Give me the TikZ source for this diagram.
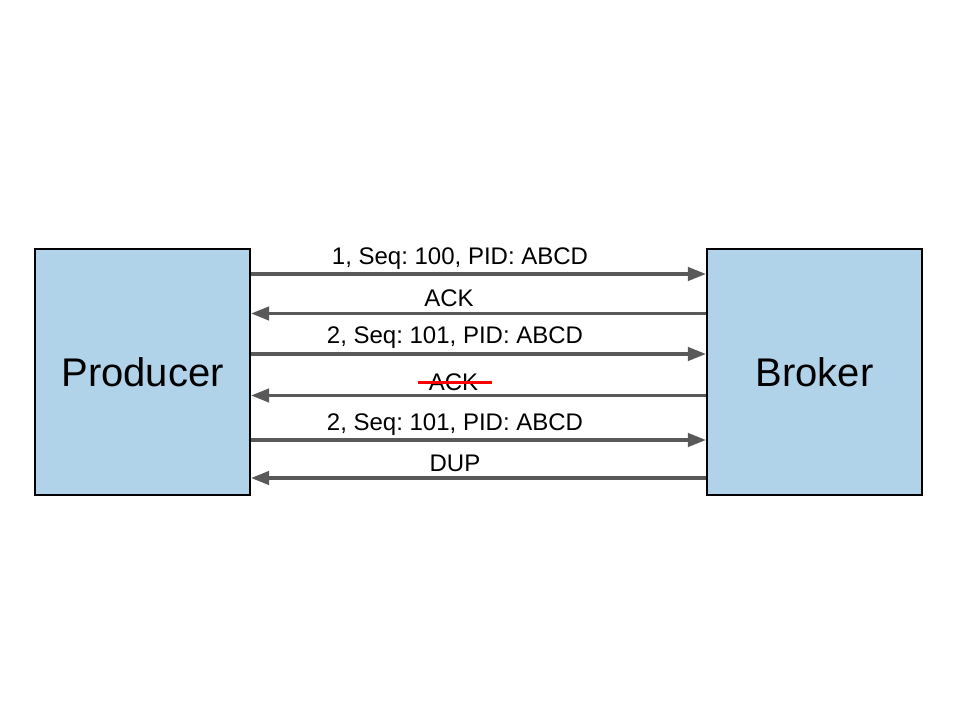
\documentclass[tikz,border=0pt]{standalone}
\usepackage{fontspec}
\setmainfont{Liberation Sans}
\usetikzlibrary{arrows.meta}
\definecolor{boxblue}{RGB}{177,211,234}
\definecolor{arrgray}{RGB}{89,89,89}
\frenchspacing
\tikzset{
  x=0.75pt, y=-0.75pt,
  box/.style={draw=black, line width=1.6pt, fill=boxblue, minimum width=161.25pt, minimum height=184.5pt, inner sep=0pt, font=\fontsize{30}{36}\selectfont},
  arr/.style={draw=arrgray, line width=2.4pt, -{Triangle[length=13.5pt, width=10pt]}},
  lbl/.style={anchor=base, inner sep=0pt, font=\fontsize{18}{21.6}\selectfont},
  strike/.style={draw=red, line width=2.2pt}
}
\begin{document}
\begin{tikzpicture}
\useasboundingbox[fill=white] (0,0) rectangle (960,720);
\node[box] (prod) at (142.5,372) {};
\node[box] (brok) at (814.5,372) {};
\node[anchor=base, inner sep=0pt, font=\fontsize{30}{36}\selectfont] (prodtxt) at (142.5,386) {Producer};
\node[anchor=base, inner sep=0pt, font=\fontsize{30}{36}\selectfont] (broktxt) at (814.5,386) {Broker};
% arrows
\coordinate (y1) at (0,274);
\coordinate (y2) at (0,313.5);
\coordinate (y3) at (0,354);
\coordinate (y4) at (0,395.5);
\coordinate (y5) at (0,440);
\coordinate (y6) at (0,478);
\draw[arr] (prod.east |- y1) -- (brok.west |- y1);
\draw[arr] (brok.west |- y2) -- (prod.east |- y2);
\draw[arr] (prod.east |- y3) -- (brok.west |- y3);
\draw[arr] (brok.west |- y4) -- (prod.east |- y4);
\draw[arr] (prod.east |- y5) -- (brok.west |- y5);
\draw[arr] (brok.west |- y6) -- (prod.east |- y6);
% labels
\node[lbl] (l1) at (460,265) {1, Seq: 100, PID: ABCD};
\node[lbl] (l2) at (449,306.5) {ACK};
\node[lbl] (l3) at (455,344) {2, Seq: 101, PID: ABCD};
\node[lbl] (l4) at (453.5,390) {ACK};
\node[lbl] (l5) at (455,430) {2, Seq: 101, PID: ABCD};
\node[lbl] (l6) at (455,471.5) {DUP};
\coordinate (s1) at (418,382.5);
\coordinate (s2) at (492,382.5);
\draw[strike] (s1) -- (s2);
\end{tikzpicture}
\end{document}
